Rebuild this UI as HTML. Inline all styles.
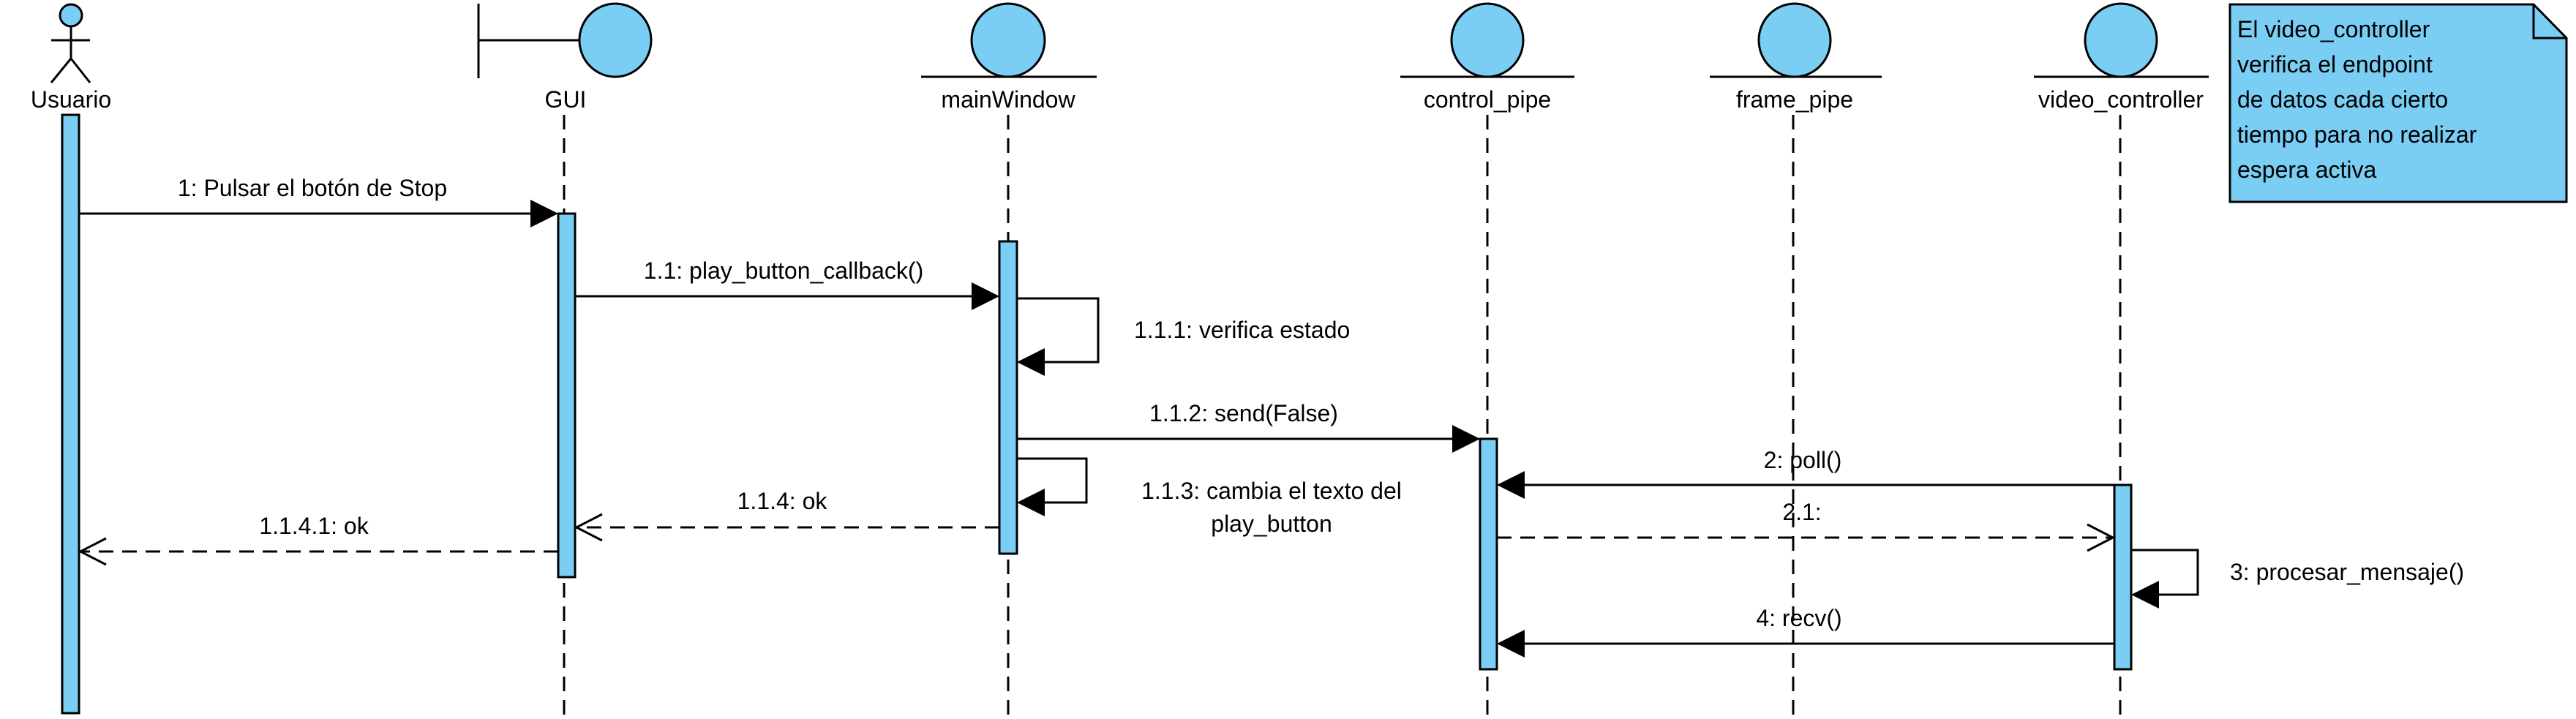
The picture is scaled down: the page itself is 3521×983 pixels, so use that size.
<!DOCTYPE html>
<html><head><meta charset="utf-8"><style>
html,body{margin:0;padding:0;background:#fff;}
svg{display:block;}
text{font-family:"Liberation Sans",Arial,sans-serif;font-size:32px;fill:#000;}
</style></head><body>
<svg width="3521" height="983" viewBox="0 0 3521 983" xmlns="http://www.w3.org/2000/svg">
<g stroke="#000" stroke-width="3" fill="none">
<!-- lifelines dashed -->
<g stroke-dasharray="20 12">
<line x1="771" y1="157" x2="771" y2="980"/>
<line x1="1378" y1="157" x2="1378" y2="980"/>
<line x1="2033" y1="157" x2="2033" y2="980"/>
<line x1="2451" y1="157" x2="2451" y2="980"/>
<line x1="2898" y1="157" x2="2898" y2="980"/>
</g>
<!-- actor -->
<circle cx="97" cy="21" r="15" fill="#7acef4"/>
<line x1="97" y1="36" x2="97" y2="80"/>
<line x1="70" y1="55" x2="123" y2="55"/>
<line x1="97" y1="80" x2="70" y2="113"/>
<line x1="97" y1="80" x2="123" y2="113"/>
<!-- GUI boundary -->
<line x1="654" y1="5" x2="654" y2="107"/>
<line x1="654" y1="55" x2="792" y2="55"/>
<ellipse cx="841" cy="55" rx="49" ry="50" fill="#7acef4"/>
<!-- entities -->
<ellipse cx="1378" cy="55" rx="50" ry="50" fill="#7acef4"/>
<line x1="1259" y1="105" x2="1499" y2="105"/>
<ellipse cx="2033" cy="55" rx="49" ry="50" fill="#7acef4"/>
<line x1="1914" y1="105" x2="2152" y2="105"/>
<ellipse cx="2453" cy="55" rx="49" ry="50" fill="#7acef4"/>
<line x1="2337" y1="105" x2="2572" y2="105"/>
<ellipse cx="2899" cy="55" rx="49" ry="50" fill="#7acef4"/>
<line x1="2780" y1="105" x2="3019" y2="105"/>
<!-- activation bars -->
<rect x="85" y="157" width="23" height="818" fill="#7acef4"/>
<rect x="763" y="292" width="23" height="497" fill="#7acef4"/>
<rect x="1366" y="330" width="24" height="427" fill="#7acef4"/>
<rect x="2023" y="600" width="23" height="315" fill="#7acef4"/>
<rect x="2890" y="663" width="23" height="252" fill="#7acef4"/>
<!-- messages -->
<line x1="108" y1="292" x2="730" y2="292"/>
<line x1="786" y1="405" x2="1330" y2="405"/>
<polyline points="1390,408 1501,408 1501,495 1420,495"/>
<line x1="1390" y1="600" x2="1990" y2="600"/>
<polyline points="1390,627 1485,627 1485,687 1420,687"/>
<line x1="2890" y1="663" x2="2080" y2="663"/>
<line x1="2046" y1="735" x2="2888" y2="735" stroke-dasharray="20 12"/>
<polyline points="2853,717 2888,735 2853,753"/>
<polyline points="2913,752 3004,752 3004,813 2945,813"/>
<line x1="2890" y1="880" x2="2080" y2="880"/>
<line x1="1366" y1="721" x2="788" y2="721" stroke-dasharray="20 12"/>
<polyline points="823,703 788,721 823,739"/>
<line x1="763" y1="754" x2="110" y2="754" stroke-dasharray="20 12"/>
<polyline points="145,736 110,754 145,772"/>
<!-- note -->
<path d="M3048,6 L3463,6 L3508,52 L3508,276 L3048,276 Z" fill="#7acef4"/>
<polyline points="3463,6 3463,52 3508,52"/>
</g>
<!-- filled arrowheads -->
<g fill="#000">
<polygon points="725,273 763,292 725,311"/>
<polygon points="1328,386 1366,405 1328,424"/>
<polygon points="1390,495 1428,476 1428,514"/>
<polygon points="1985,581 2023,600 1985,619"/>
<polygon points="1390,687 1428,668 1428,706"/>
<polygon points="2046,663 2084,644 2084,682"/>
<polygon points="2913,813 2951,794 2951,832"/>
<polygon points="2046,880 2084,861 2084,899"/>
</g>
<!-- labels -->
<g text-anchor="middle">
<text x="97" y="147">Usuario</text>
<text x="773" y="147">GUI</text>
<text x="1378" y="147">mainWindow</text>
<text x="2033" y="147">control_pipe</text>
<text x="2453" y="147">frame_pipe</text>
<text x="2899" y="147">video_controller</text>
<text x="427" y="268">1: Pulsar el botón de Stop</text>
<text x="1071" y="381">1.1: play_button_callback()</text>
<text x="1700" y="576">1.1.2: send(False)</text>
<text x="1738" y="682">1.1.3: cambia el texto del</text>
<text x="1738" y="727">play_button</text>
<text x="1069" y="696">1.1.4: ok</text>
<text x="429" y="730">1.1.4.1: ok</text>
<text x="2464" y="640">2: poll()</text>
<text x="2463" y="711">2.1:</text>
<text x="2459" y="856">4: recv()</text>
</g>
<text x="1550" y="462">1.1.1: verifica estado</text>
<text x="3048" y="793">3: procesar_mensaje()</text>
<text x="3058" y="51">El video_controller</text>
<text x="3058" y="99">verifica el endpoint</text>
<text x="3058" y="147">de datos cada cierto</text>
<text x="3058" y="195">tiempo para no realizar</text>
<text x="3058" y="243">espera activa</text>
</svg>
</body></html>
